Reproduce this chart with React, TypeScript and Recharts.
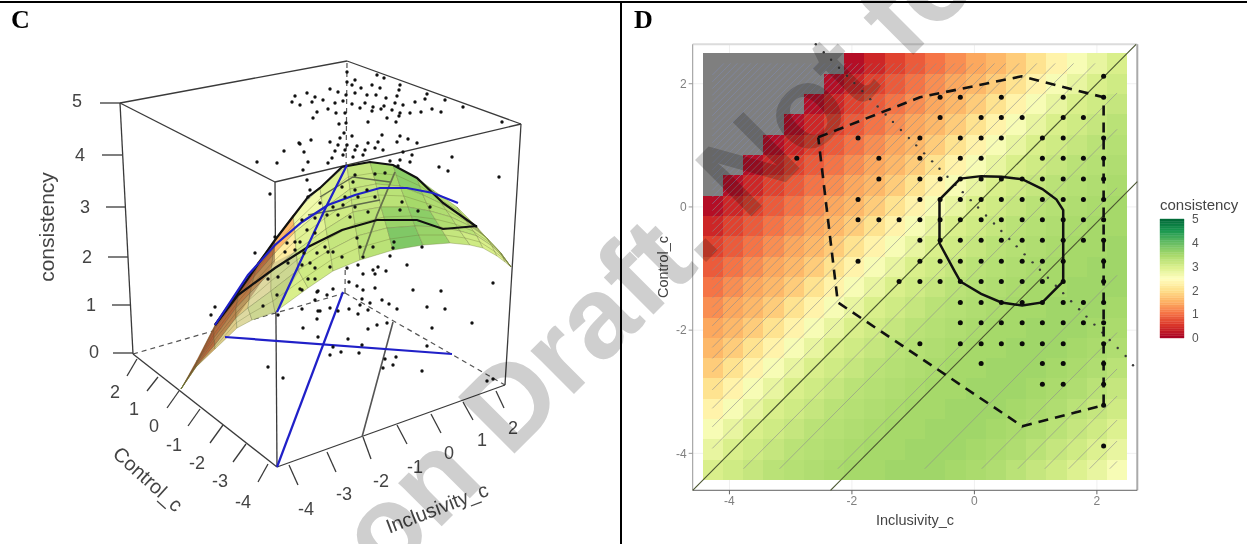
import { CartesianGrid, ReferenceArea, ReferenceLine, Scatter, ScatterChart, XAxis, YAxis } from "recharts";

const SANS = "'Liberation Sans', Arial, sans-serif";

// ---------- panel D: response surface heat map ----------
const heatX = [-4.27, -3.94, -3.61, -3.28, -2.95, -2.62, -2.29, -1.96, -1.63, -1.3, -0.97, -0.64, -0.31, 0.02, 0.35, 0.68, 1.01, 1.34, 1.67, 2.0, 2.33];
const heatY = [2.33, 2.0, 1.67, 1.34, 1.01, 0.68, 0.35, 0.02, -0.31, -0.64, -0.97, -1.3, -1.63, -1.96, -2.29, -2.62, -2.95, -3.28, -3.61, -3.94, -4.27];
const n = null;
const heatValues = [
  [n, n, n, n, n, n, n, 0.15, 0.4, 0.65, 0.85, 1.05, 1.25, 1.45, 1.6, 1.8, 2.05, 2.3, 2.6, 2.8, 3],
  [n, n, n, n, n, n, 0.15, 0.4, 0.65, 0.85, 1.05, 1.25, 1.45, 1.6, 1.8, 2.05, 2.3, 2.6, 2.8, 3, 3.1],
  [n, n, n, n, n, 0.15, 0.4, 0.65, 0.85, 1.05, 1.25, 1.45, 1.6, 1.8, 2.05, 2.3, 2.6, 2.8, 3, 3.1, 3.2],
  [n, n, n, n, 0.15, 0.4, 0.65, 0.85, 1.05, 1.25, 1.45, 1.6, 1.8, 2.05, 2.3, 2.6, 2.8, 3, 3.1, 3.2, 3.3],
  [n, n, n, 0.15, 0.4, 0.65, 0.85, 1.05, 1.25, 1.45, 1.6, 1.8, 2.05, 2.3, 2.6, 2.8, 3, 3.1, 3.2, 3.3, 3.35],
  [n, n, 0.15, 0.4, 0.65, 0.85, 1.05, 1.25, 1.45, 1.6, 1.8, 2.05, 2.3, 2.6, 2.8, 3, 3.1, 3.2, 3.3, 3.35, 3.4],
  [n, 0.15, 0.4, 0.65, 0.85, 1.05, 1.25, 1.45, 1.6, 1.8, 2.05, 2.3, 2.6, 2.8, 3, 3.1, 3.2, 3.3, 3.35, 3.4, 3.45],
  [0.15, 0.4, 0.65, 0.85, 1.05, 1.25, 1.45, 1.6, 1.8, 2.05, 2.3, 2.6, 2.8, 3, 3.1, 3.2, 3.3, 3.35, 3.4, 3.45, 3.5],
  [0.4, 0.65, 0.85, 1.05, 1.25, 1.45, 1.6, 1.8, 2.05, 2.3, 2.6, 2.8, 3, 3.1, 3.2, 3.3, 3.35, 3.4, 3.45, 3.5, 3.5],
  [0.65, 0.85, 1.05, 1.25, 1.45, 1.6, 1.8, 2.05, 2.3, 2.6, 2.8, 3, 3.1, 3.2, 3.3, 3.35, 3.4, 3.45, 3.5, 3.5, 3.55],
  [0.85, 1.05, 1.25, 1.45, 1.6, 1.8, 2.05, 2.3, 2.6, 2.8, 3, 3.1, 3.2, 3.3, 3.35, 3.4, 3.45, 3.5, 3.5, 3.55, 3.55],
  [1.05, 1.25, 1.45, 1.6, 1.8, 2.05, 2.3, 2.6, 2.8, 3, 3.1, 3.2, 3.3, 3.35, 3.4, 3.45, 3.5, 3.5, 3.55, 3.55, 3.55],
  [1.25, 1.45, 1.6, 1.8, 2.05, 2.3, 2.6, 2.8, 3, 3.1, 3.2, 3.3, 3.35, 3.4, 3.45, 3.5, 3.5, 3.55, 3.55, 3.55, 3.5],
  [1.45, 1.6, 1.8, 2.05, 2.3, 2.6, 2.8, 3, 3.1, 3.2, 3.3, 3.35, 3.4, 3.45, 3.5, 3.5, 3.55, 3.55, 3.55, 3.5, 3.45],
  [1.6, 1.8, 2.05, 2.3, 2.6, 2.8, 3, 3.1, 3.2, 3.3, 3.35, 3.4, 3.45, 3.5, 3.5, 3.55, 3.55, 3.55, 3.5, 3.45, 3.4],
  [1.8, 2.05, 2.3, 2.6, 2.8, 3, 3.1, 3.2, 3.3, 3.35, 3.4, 3.45, 3.5, 3.5, 3.55, 3.55, 3.55, 3.5, 3.45, 3.4, 3.3],
  [2.05, 2.3, 2.6, 2.8, 3, 3.1, 3.2, 3.3, 3.35, 3.4, 3.45, 3.5, 3.5, 3.55, 3.55, 3.55, 3.5, 3.45, 3.4, 3.3, 3.2],
  [2.3, 2.6, 2.8, 3, 3.1, 3.2, 3.3, 3.35, 3.4, 3.45, 3.5, 3.5, 3.55, 3.55, 3.55, 3.5, 3.45, 3.4, 3.3, 3.2, 3.1],
  [2.6, 2.8, 3, 3.1, 3.2, 3.3, 3.35, 3.4, 3.45, 3.5, 3.5, 3.55, 3.55, 3.55, 3.5, 3.45, 3.4, 3.3, 3.2, 3.1, 2.95],
  [2.8, 3, 3.1, 3.2, 3.3, 3.35, 3.4, 3.45, 3.5, 3.5, 3.55, 3.55, 3.55, 3.5, 3.45, 3.4, 3.3, 3.2, 3.1, 2.95, 2.8],
  [3, 3.1, 3.2, 3.3, 3.35, 3.4, 3.45, 3.5, 3.5, 3.55, 3.55, 3.55, 3.5, 3.45, 3.4, 3.3, 3.2, 3.1, 2.95, 2.8, 2.6],
];
// x - y offset of each thin contour line
const contourOffsets = [6.46, 6.13, 5.79, 5.4, 4.96, 4.37, 3.44, 2.02, 1.07, 0.48, -0.36, -0.71, -1.01, -1.31, -1.6, -1.82, -2.0, -2.18, -2.35, -2.5, -2.65, -2.8, -2.95, -3.1, -3.25, -3.4, -3.52, -3.64, -3.76, -3.88, -4.0, -4.11, -4.22, -4.33, -4.44, -4.55, -4.66, -4.77, -4.88, -4.99, -5.1, -5.21, -5.32, -5.43, -5.54, -5.65, -5.76, -5.87, -5.98, -6.09, -6.2, -6.31, -6.42];
const darkDiagonalA = [{ x: -4.6, y: -4.6 }, { x: 2.64, y: 2.64 }];
const darkDiagonalB = [{ x: -2.35, y: -4.6 }, { x: 2.66, y: 0.41 }];
const hullOuter = [
  { x: -2.55, y: 1.13 }, { x: -0.89, y: 1.78 }, { x: 0.77, y: 2.12 }, { x: 2.11, y: 1.78 }, { x: 2.11, y: -3.22 },
  { x: 0.78, y: -3.56 }, { x: -2.23, y: -1.55 }, { x: -2.55, y: 1.13 },
];
const hullInner = [
  { x: -0.57, y: 0.12 }, { x: -0.23, y: 0.46 }, { x: 0.11, y: 0.5 }, { x: 0.44, y: 0.49 }, { x: 0.78, y: 0.45 }, { x: 1.11, y: 0.29 },
  { x: 1.34, y: 0.12 }, { x: 1.45, y: -0.05 }, { x: 1.45, y: -0.88 }, { x: 1.45, y: -1.21 }, { x: 1.28, y: -1.38 }, { x: 1.11, y: -1.55 },
  { x: 0.78, y: -1.6 }, { x: 0.44, y: -1.55 }, { x: 0.11, y: -1.41 }, { x: -0.23, y: -1.21 }, { x: -0.32, y: -1.05 }, { x: -0.57, y: -0.59 }, { x: -0.57, y: 0.12 },
];
// observed responses, one row of the rating grid at a time
const obsRows: [number, number[]][] = [
  [2.12, [2.11]],
  [1.78, [-0.56, -0.23, 0.44, 1.45, 2.11]],
  [1.45, [-0.56, 0.11, 0.44, 0.78, 1.45, 1.78]],
  [1.12, [-1.9, -0.89, -0.23, 0.11, 0.44, 1.11, 1.45, 2.11]],
  [0.79, [-2.9, -1.56, -0.89, -0.23, 0.11, 1.11, 1.45, 1.78, 2.11]],
  [0.455, [-1.56, -0.89, -0.56, -0.23, 0.11, 0.44, 0.78, 1.11, 1.45, 1.78, 2.11]],
  [0.12, [-1.9, -0.89, -0.56, -0.23, 0.11, 0.44, 0.78, 1.11, 1.45, 1.78, 2.11]],
  [-0.21, [-1.9, -1.56, -1.23, -0.89, -0.56, -0.23, 0.11, 0.44, 0.78, 1.11, 1.45, 1.78, 2.11]],
  [-0.54, [-0.89, -0.56, -0.23, 0.11, 0.44, 0.78, 1.11, 1.45, 1.78, 2.11]],
  [-0.88, [-1.9, -0.89, -0.56, -0.23, 0.11, 0.44, 0.78, 1.11, 1.45, 2.11]],
  [-1.21, [-1.23, -0.89, -0.56, -0.23, 0.11, 0.44, 0.78, 1.11, 1.45, 2.11]],
  [-1.55, [-0.23, 0.11, 0.44, 0.78, 1.11, 1.45, 1.78, 2.11]],
  [-1.88, [-0.23, 0.11, 0.44, 0.78, 1.11, 1.45, 1.78, 2.11]],
  [-2.22, [-0.89, -0.23, 0.11, 0.44, 0.78, 1.11, 1.45, 2.11]],
  [-2.54, [0.11, 1.11, 1.45, 2.11]],
  [-2.88, [1.11, 1.45, 2.11]],
  [-3.22, [2.11]],
  [-3.88, [2.11]],
];
const incongruenceX = [-2.59, -2.46, -2.34, -2.21, -2.08, -1.96, -1.83, -1.7, -1.58, -1.45, -1.33, -1.2, -1.07, -0.95, -0.82, -0.69, -0.57, -0.44, -0.31, -0.19, -0.06, 0.06, 0.19, 0.32, 0.44, 0.57, 0.69, 0.82, 0.95, 1.07, 1.2, 1.33, 1.45, 1.58, 1.71, 1.83, 1.96, 2.09, 2.21, 2.34, 2.47, 2.59];
const incongruenceY = [2.64, 2.51, 2.39, 2.26, 2.13, 2.01, 1.88, 1.75, 1.63, 1.5, 1.38, 1.25, 1.12, 1.0, 0.87, 0.74, 0.62, 0.49, 0.36, 0.24, 0.11, -0.01, -0.14, -0.27, -0.39, -0.52, -0.64, -0.77, -0.9, -1.02, -1.15, -1.28, -1.4, -1.53, -1.66, -1.78, -1.91, -2.04, -2.16, -2.29, -2.42, -2.57];
const panelDTicks = [-4, -2, 0, 2];
const legendTicks = [0, 1, 2, 3, 4, 5];
const legendLevels = [0, 0.1, 0.2, 0.3, 0.4, 0.5, 0.6, 0.7, 0.8, 0.9, 1, 1.1, 1.2, 1.3, 1.4, 1.5, 1.6, 1.7, 1.8, 1.9, 2, 2.1, 2.2, 2.3, 2.4, 2.5, 2.6, 2.7, 2.8, 2.9, 3, 3.1, 3.2, 3.3, 3.4, 3.5, 3.6, 3.7, 3.8, 3.9, 4, 4.1, 4.2, 4.3, 4.4, 4.5, 4.6, 4.7, 4.8, 4.9];

// ---------- panel C: 3D view, positions read in the plane of the picture ----------
type P = { x: number; y: number };
const pts = (a: number[][]): P[] => a.map(([x, y]) => ({ x, y }));
const boxSolid = [
  [[120, 103], [275, 182]], [[120, 103], [347, 61]], [[347, 61], [521, 124]], [[275, 182], [521, 124]],
  [[120, 103], [133, 354]], [[275, 182], [277, 467]], [[521, 124], [505, 385]], [[133, 354], [277, 467]], [[277, 467], [505, 385]],
];
const boxDashed = [[[133, 354], [345, 293]], [[345, 293], [505, 385]], [[345, 293], [347, 61]]];
const zTicks = [[[100, 103], [120, 103]], [[102, 155], [122, 155]], [[106, 207], [125, 207]], [[108, 257], [128, 257]], [[112, 305], [131, 305]], [[113, 353], [133, 353]]];
const controlTicks = [[[137, 359], [127, 376]], [[158, 377], [147, 391]], [[179, 391], [167, 408]], [[200, 409], [188, 426]], [[223, 425], [210, 443]], [[246, 444], [233, 462]], [[268, 464], [258, 482]]];
const inclusivityTicks = [[[289, 465], [298, 485]], [[327, 452], [336, 472]], [[363, 437], [371, 459]], [[397, 425], [407, 444]], [[431, 414], [441, 433]], [[463, 402], [473, 420]], [[496, 391], [504, 408]]];
const zLabels = [{ x: 77, y: 101, label: "5" }, { x: 80, y: 155, label: "4" }, { x: 85, y: 207, label: "3" }, { x: 87, y: 257, label: "2" }, { x: 91, y: 305, label: "1" }, { x: 94, y: 352, label: "0" }];
const controlLabels = [{ x: 115, y: 392, label: "2" }, { x: 134, y: 409, label: "1" }, { x: 154, y: 426, label: "0" }, { x: 174, y: 445, label: "-1" }, { x: 197, y: 463, label: "-2" }, { x: 220, y: 481, label: "-3" }, { x: 243, y: 502, label: "-4" }];
const inclusivityLabels = [{ x: 306, y: 509, label: "-4" }, { x: 344, y: 494, label: "-3" }, { x: 381, y: 481, label: "-2" }, { x: 415, y: 467, label: "-1" }, { x: 449, y: 453, label: "0" }, { x: 482, y: 440, label: "1" }, { x: 513, y: 428, label: "2" }];
const surfaceRows = [
  [[181, 389], [197, 360], [215, 325], [242, 287], [258, 262], [275, 240], [293, 215], [320, 188], [347, 165], [370, 162], [393, 165], [417, 178], [433, 190], [457, 207], [477, 227], [497, 250], [511, 267]],
  [[181, 389], [197, 363], [214, 330], [238, 298], [254, 277], [273, 255], [295, 232], [323, 209], [350, 189], [376, 184], [400, 186], [423, 195], [442, 204], [463, 217], [480, 232], [499, 251], [511, 267]],
  [[181, 389], [196, 365], [214, 338], [236, 308], [250, 293], [271, 272], [296, 251], [326, 229], [353, 212], [381, 207], [408, 207], [430, 211], [451, 217], [470, 226], [487, 238], [501, 253], [511, 267]],
  [[181, 389], [196, 367], [215, 345], [236, 318], [248, 308], [271, 291], [298, 270], [330, 250], [357, 236], [387, 228], [415, 226], [440, 227], [460, 231], [477, 236], [492, 246], [503, 257], [511, 267]],
  [[181, 389], [195, 368], [215, 349], [237, 328], [252, 320], [275, 312], [308, 288], [333, 271], [360, 260], [393, 250], [423, 245], [450, 243], [470, 245], [483, 248], [497, 256], [505, 262], [511, 267]],
];
const surfaceMeshRows = [
  [[181, 389], [197, 362], [214, 328], [240, 293], [256, 270], [274, 248], [294, 224], [321, 198], [348, 177], [373, 173], [396, 175], [420, 186], [437, 197], [460, 212], [478, 229], [498, 250], [511, 267]],
  [[181, 389], [196, 364], [214, 334], [237, 303], [252, 285], [272, 263], [295, 241], [324, 219], [351, 200], [378, 195], [404, 196], [426, 203], [446, 210], [466, 221], [483, 235], [500, 252], [511, 267]],
  [[181, 389], [196, 366], [214, 341], [236, 313], [249, 300], [271, 281], [297, 260], [328, 239], [355, 224], [384, 217], [411, 216], [435, 219], [455, 224], [473, 231], [489, 242], [502, 255], [511, 267]],
  [[181, 389], [196, 367], [215, 347], [236, 323], [250, 314], [273, 301], [303, 279], [331, 260], [358, 248], [390, 239], [419, 235], [445, 235], [465, 238], [480, 242], [494, 251], [504, 259], [511, 267]],
];
const surfaceValues = [
  [0.9, 1.0, 1.1, 1.2, 1.3, 1.6, 2.7, 2.95, 3.2, 3.5, 3.7, 3.5, 3.3, 3.2, 3.0, 2.8],
  [0.9, 1.1, 1.3, 1.5, 1.8, 2.2, 2.9, 3.1, 3.2, 3.3, 3.5, 3.4, 3.3, 3.2, 3.0, 2.8],
  [1.0, 1.3, 1.7, 2.0, 2.4, 2.8, 3.05, 3.2, 3.3, 3.6, 3.7, 3.4, 3.3, 3.1, 3.0, 2.7],
  [1.0, 1.6, 2.1, 2.4, 2.8, 3.0, 3.1, 3.15, 3.3, 3.8, 3.6, 3.2, 3.1, 3.0, 2.9, 2.7],
];
const tipShadow = pts([[181, 389], [197, 360], [215, 325], [242, 287], [258, 262], [275, 240], [275, 262], [254, 293], [236, 318], [215, 345], [195, 368]]);
const tanShade = pts([[195, 368], [215, 345], [236, 318], [254, 293], [275, 262], [296, 251], [300, 270], [275, 312], [252, 320], [237, 328], [215, 349]]);
const blueFloorA = pts([[225, 337], [452, 354]]);
const blueFloorB = pts([[277, 467], [343, 292]]);
const blueOnSurfaceA = pts([[277, 312], [302, 258], [327, 205], [347, 165]]);
const blueOnSurfaceB = pts([[215, 325], [248, 275], [275, 245], [302, 222], [328, 205], [355, 195], [380, 188], [407, 188], [433, 193], [458, 203]]);
const hullTopC = pts([[215, 325], [242, 287], [275, 240], [308, 197], [320, 188], [342, 167], [370, 162], [393, 165], [417, 178], [443, 203], [477, 227]]);
const hullBackC = pts([[477, 226], [443, 229], [417, 220], [377, 220], [342, 230], [308, 247], [275, 268], [238, 295], [215, 325]]);
const greySurfaceA = pts([[395, 172], [377, 215], [363, 255]]);
const greySurfaceB = pts([[393, 322], [362, 437]]);
const greySurfaceC = pts([[308, 215], [335, 210], [355, 205], [380, 200]]);
const greySurfaceD = pts([[320, 197], [353, 177], [390, 182]]);
const dotsC = pts([
  [347, 72], [347, 82], [355, 80], [352, 85], [377, 75], [384, 78], [400, 85], [372, 85], [361, 88], [380, 88], [399, 90], [307, 93], [315, 97], [330, 89], [338, 92], [346, 95], [355, 93], [367, 95], [376, 95], [386, 98], [397, 96], [427, 94], [425, 99], [415, 102], [445, 100], [463, 107], [300, 105], [312, 102], [323, 100], [335, 103], [343, 101], [352, 104], [365, 103], [373, 107], [384, 106], [395, 103], [403, 105], [328, 109], [345, 113], [336, 113], [360, 108], [372, 111], [381, 109], [392, 110], [400, 113], [410, 113], [421, 112], [432, 109], [441, 112], [317, 112], [313, 118], [339, 124], [346, 123], [368, 122], [387, 118], [399, 116], [396, 122], [502, 122],
  [311, 140], [300, 144], [304, 152], [340, 138], [344, 133], [352, 136], [382, 135], [400, 136], [408, 139], [417, 143], [397, 142], [330, 142], [338, 145], [347, 145], [357, 146], [368, 143], [378, 142], [375, 148], [365, 150], [355, 150], [345, 150], [335, 151], [383, 150], [403, 152], [412, 155], [343, 155], [353, 157], [363, 155], [332, 158], [328, 163], [308, 162], [303, 170], [390, 161], [400, 160], [410, 162], [452, 157], [439, 167], [448, 171], [499, 177],
  [307, 180], [310, 190], [355, 175], [375, 174], [385, 173], [398, 166], [342, 187], [355, 190], [367, 190], [353, 182], [345, 197], [358, 197], [375, 197], [320, 203], [333, 207], [343, 205], [355, 207], [368, 212], [327, 215], [338, 215], [350, 217], [402, 202], [400, 210], [418, 211], [430, 207], [302, 220], [357, 238], [360, 247], [328, 252], [342, 257], [325, 247], [333, 252], [317, 253], [310, 263], [330, 267], [347, 268], [358, 265], [373, 247], [394, 242], [393, 248], [422, 247], [390, 256], [407, 265], [378, 267], [373, 270], [386, 271], [363, 257], [315, 268],
  [295, 96], [292, 102], [284, 151], [257, 162], [277, 163], [299, 143], [270, 194], [255, 253], [275, 237], [287, 243], [295, 242], [295, 250], [285, 252], [288, 263], [300, 242], [304, 253], [315, 233], [307, 230], [308, 197], [315, 218], [302, 265],
  [215, 307], [211, 315], [268, 367], [283, 378], [263, 306], [277, 295], [278, 315], [268, 279], [278, 277], [302, 290], [308, 279], [315, 279], [300, 289], [317, 292], [315, 300], [302, 309], [317, 319], [303, 328], [318, 311], [318, 337],
  [493, 283], [413, 290], [441, 291], [375, 288], [363, 290], [357, 286], [349, 282], [363, 274], [375, 274], [318, 291], [333, 289], [327, 295], [362, 299], [370, 303], [360, 305], [368, 310], [358, 314], [349, 309], [330, 308], [320, 311], [338, 311], [382, 300], [389, 304], [397, 309], [427, 307], [445, 309], [377, 325], [368, 329], [387, 323], [432, 328], [472, 323], [348, 339], [362, 345], [427, 346], [333, 347], [330, 355], [341, 352], [359, 353], [385, 359], [396, 357], [383, 368], [393, 365], [422, 371], [487, 381], [493, 379],
]);

// ---------- helpers ----------
const colorStops = ["#a50026", "#d73027", "#f46d43", "#fdae61", "#fee08b", "#ffffbf", "#d9ef8b", "#a6d96a", "#66bd63", "#1a9850", "#006837"];
function valueColor(v: number) {
  const t = Math.max(0, Math.min(0.9999, v / 5)) * (colorStops.length - 1);
  const i = Math.floor(t);
  const hex = (s: string, k: number) => parseInt(s.slice(1 + k * 2, 3 + k * 2), 16);
  const mix = [0, 1, 2].map((k) => Math.round(hex(colorStops[i], k) + (hex(colorStops[i + 1], k) - hex(colorStops[i], k)) * (t - i)));
  return `rgb(${mix.join(",")})`;
}
const noMark = () => null;
const dot = (r: number, fill: string) => (p: any) => <circle cx={p.cx} cy={p.cy} r={r} fill={fill} />;
const polygonLine = (fill: string, opacity = 1) => (p: any) => (
  <polygon points={p.points.map((q: P) => `${q.x},${q.y}`).join(" ")} fill={fill} fillOpacity={opacity} stroke="#6f7a3c" strokeOpacity={opacity < 1 ? 0 : 0.6} strokeWidth={0.6} />
);
const tickText = (p: any) => (
  <text x={p.cx} y={p.cy} fontFamily={SANS} fontSize={18} fill="#444" textAnchor="middle" dominantBaseline="central">{p.payload.label}</text>
);
const polyline = (data: P[], stroke: string, strokeWidth: number, dash?: string) => (
  <Scatter data={data} shape={noMark} isAnimationActive={false} line={{ stroke, strokeWidth, strokeDasharray: dash }} />
);
const contourLines = contourOffsets.map((d) => {
  const x0 = Math.max(-4.28, d - 4.25);
  const x1 = Math.min(2.33, d + 2.33);
  return { d, line: [{ x: x0, y: x0 - d }, { x: x1, y: x1 - d }] };
});

function PanelC() {
  const quads = surfaceValues.flatMap((row, r) =>
    row.map((v, s) => ({
      fill: valueColor(v),
      data: pts([surfaceRows[r][s], surfaceRows[r][s + 1], surfaceRows[r + 1][s + 1], surfaceRows[r + 1][s]]),
    })),
  );
  return (
    <ScatterChart width={620} height={544} margin={{ top: 0, right: 0, bottom: 0, left: 0 }}>
      <XAxis type="number" dataKey="x" domain={[0, 620]} hide />
      <YAxis type="number" dataKey="y" domain={[0, 544]} reversed hide />
      {boxDashed.map((e, i) => <Scatter key={i} data={pts(e)} shape={noMark} isAnimationActive={false} line={{ stroke: "#555", strokeWidth: 1.2, strokeDasharray: "5 4" }} />)}
      {[...boxSolid, ...zTicks, ...controlTicks, ...inclusivityTicks].map((e, i) => <Scatter key={i} data={pts(e)} shape={noMark} isAnimationActive={false} line={{ stroke: "#3a3a3a", strokeWidth: 1.3 }} />)}
      {quads.map((q, i) => <Scatter key={i} data={q.data} shape={noMark} isAnimationActive={false} line={polygonLine(q.fill)} />)}
      {surfaceMeshRows.map((row, i) => <Scatter key={i} data={pts(row)} shape={noMark} isAnimationActive={false} line={{ stroke: "#6f7a3c", strokeOpacity: 0.6, strokeWidth: 0.6 }} />)}
      <Scatter data={tipShadow} shape={noMark} isAnimationActive={false} line={polygonLine("#5a3020", 0.42)} />
      <Scatter data={tanShade} shape={noMark} isAnimationActive={false} line={polygonLine("#8a8a70", 0.28)} />
      {polyline(greySurfaceA, "#66734c", 1.8)}
      {polyline(greySurfaceB, "#555", 1.6)}
      {polyline(greySurfaceC, "#5f6b4a", 1.4)}
      {polyline(greySurfaceD, "#5f6b4a", 1.4)}
      {polyline(hullTopC, "#111", 2.2)}
      {polyline(hullBackC, "#111", 2.2)}
      {polyline(blueFloorA, "#2020c8", 2.2)}
      {polyline(blueFloorB, "#2020c8", 2.2)}
      {polyline(blueOnSurfaceA, "#2020c8", 2.2)}
      {polyline(blueOnSurfaceB, "#2020c8", 2.2)}
      <Scatter data={dotsC} shape={dot(1.7, "#111")} isAnimationActive={false} />
      <Scatter data={zLabels} shape={tickText} isAnimationActive={false} />
      <Scatter data={controlLabels} shape={tickText} isAnimationActive={false} />
      <Scatter data={inclusivityLabels} shape={tickText} isAnimationActive={false} />
    </ScatterChart>
  );
}

function PanelD() {
  const obs = obsRows.flatMap(([y, xs]) => xs.map((x) => ({ x, y })));
  const smallDots = incongruenceX.map((x, i) => ({ x, y: incongruenceY[i] }));
  return (
    <ScatterChart width={622} height={544} margin={{ top: 44.3, right: 109.7, bottom: 23.7, left: 0 }}>
      <CartesianGrid stroke="#f0f0f0" />
      <XAxis
        type="number"
        dataKey="x"
        domain={[-4.6, 2.66]}
        ticks={panelDTicks}
        height={30}
        tickSize={4}
        tick={{ fontSize: 12, fill: "#7f7f7f", fontFamily: SANS }}
        stroke="#666"
        label={{ value: "Inclusivity_c", position: "bottom", offset: -6, fontSize: 14.5, fill: "#444", fontFamily: SANS }}
      />
      <YAxis
        type="number"
        dataKey="y"
        domain={[-4.6, 2.64]}
        ticks={panelDTicks}
        width={67.7}
        tickSize={4}
        tick={{ fontSize: 12, fill: "#7f7f7f", fontFamily: SANS }}
        stroke="#999"
      />
      {heatValues.flatMap((row, r) =>
        row.map((v, c) => (
          <ReferenceArea
            key={`${r}-${c}`}
            x1={heatX[c] - 0.165}
            x2={heatX[c] + 0.165}
            y1={heatY[r] - 0.165}
            y2={heatY[r] + 0.165}
            fill={v === null ? "#7f7f7f" : valueColor(v)}
            fillOpacity={1}
            stroke="none"
            shapeRendering="crispEdges"
          />
        )),
      )}
      <ReferenceLine y={2.64} stroke="#dcdcdc" strokeWidth={2} />
      <ReferenceLine x={2.66} stroke="#aaaaaa" strokeWidth={2} />
      {contourLines.map((l, i) => <Scatter key={i} data={l.line} shape={noMark} isAnimationActive={false} line={{ stroke: l.d < -4.29 ? "#7f8bb0" : "#8d8d8d", strokeOpacity: 0.6, strokeWidth: 1 }} />)}
      {polyline(darkDiagonalA, "#4a5530", 1.1)}
      {polyline(darkDiagonalB, "#4a5530", 1.1)}
      <Scatter data={smallDots} shape={dot(1.2, "#3a3a3a")} isAnimationActive={false} />
      {polyline(hullOuter, "#111", 2.6, "10 7")}
      {polyline(hullInner, "#111", 2.5)}
      <Scatter data={obs} shape={dot(2.5, "#0a0a0a")} isAnimationActive={false} />
    </ScatterChart>
  );
}

function LegendBar() {
  return (
    <ScatterChart width={60} height={140} margin={{ top: 9, right: 0, bottom: 12, left: 5 }}>
      <XAxis type="number" dataKey="x" domain={[0, 1]} hide />
      <YAxis
        type="number"
        dataKey="y"
        orientation="right"
        domain={[0, 5]}
        ticks={legendTicks}
        interval={0}
        width={31}
        tickSize={0}
        axisLine={false}
        tickMargin={8}
        tick={{ fontSize: 12, fill: "#555", fontFamily: SANS }}
      />
      {legendLevels.map((v) => (
        <ReferenceArea key={v} x1={0} x2={1} y1={v} y2={v + 0.1} fill={valueColor(v + 0.05)} fillOpacity={1} stroke={valueColor(v + 0.05)} strokeWidth={0.4} />
      ))}
      <Scatter data={legendTicks.map((y) => ({ x: 0, y }))} shape={noMark} isAnimationActive={false} />
    </ScatterChart>
  );
}

const abs = (left: number, top: number): React.CSSProperties => ({ position: "absolute", left, top });

export default function App() {
  return (
    <div style={{ position: "absolute", left: 0, top: 0, width: 1247, height: 544, overflow: "hidden", background: "#fff", filter: "blur(0.4px)" }}>
      <div style={abs(0, 0)}><PanelC /></div>
      <div style={abs(625, 0)}><PanelD /></div>
      <div style={abs(1155, 210)}><LegendBar /></div>
      <div style={{ ...abs(1160, 196), font: `15px ${SANS}`, color: "#444" }}>consistency</div>
      <div style={{ ...abs(11, 5), font: `bold 26px 'Liberation Serif', serif` }}>C</div>
      <div style={{ ...abs(634, 5), font: `bold 26px 'Liberation Serif', serif` }}>D</div>
      <svg width={1247} height={544} style={{ ...abs(0, 0), pointerEvents: "none" }}>
        <text x={46} y={227} transform="rotate(-90 46 227)" fontFamily={SANS} fontSize={21} fill="#444" textAnchor="middle" dominantBaseline="central">consistency</text>
        <text x={148} y={479} transform="rotate(42 148 479)" fontFamily={SANS} fontSize={20} fill="#444" textAnchor="middle" dominantBaseline="central">Control_c</text>
        <text x={437} y={508} transform="rotate(-21 437 508)" fontFamily={SANS} fontSize={20} fill="#444" textAnchor="middle" dominantBaseline="central">Inclusivity_c</text>
        <text x={663} y={267} transform="rotate(-90 663 267)" fontFamily={SANS} fontSize={14.5} fill="#444" textAnchor="middle" dominantBaseline="central">Control_c</text>
      </svg>
      <div style={{ ...abs(0, 1), width: 1247, height: 2, background: "#000" }} />
      <div style={{ ...abs(620, 1), width: 2, height: 543, background: "#000" }} />
      <svg width={1247} height={544} style={{ ...abs(0, 0), pointerEvents: "none", mixBlendMode: "multiply" }}>
        <text x={386} y={582} transform="rotate(-45 386 582)" fontFamily={SANS} fontWeight="bold" fontSize={116} fill="#cfcfcf">on Draft. Not for</text>
      </svg>
    </div>
  );
}
